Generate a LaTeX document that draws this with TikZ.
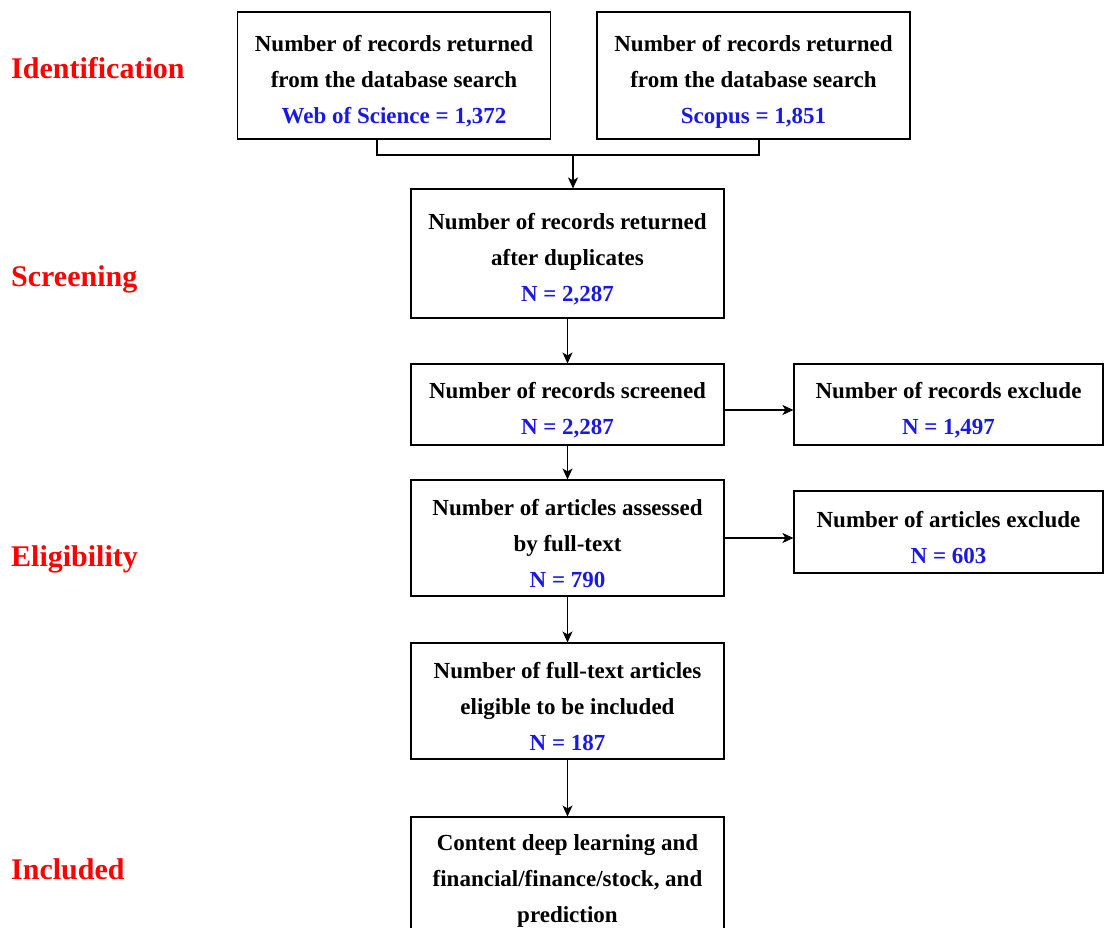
\documentclass[tikz,border=0pt]{standalone}
\usepackage{fontspec}
\setmainfont{Liberation Serif}
\usetikzlibrary{arrows.meta,calc}
\definecolor{numblue}{RGB}{25,25,225}
\definecolor{stagered}{RGB}{255,0,0}
\newcommand\boxfont{\fontsize{23}{36}\selectfont\bfseries}
\newcommand\stagefont{\fontsize{30}{36}\selectfont\bfseries}
\newcommand\numtxt[1]{\textcolor{numblue}{#1}}
% taller first line, so the text sits a little low in its box
\newcommand\firstline{\rule{0pt}{28pt}}
\begin{document}
\begin{tikzpicture}[x=1pt,y=-1pt,
  box/.style={draw, line width=1.1pt, inner sep=0pt, align=center,
    font=\boxfont, minimum width=313pt, minimum height=#1},
  stage/.style={text=stagered, font=\stagefont, anchor=base west, inner sep=0pt},
  arr/.style={line width=1.1pt, -{Stealth[length=11pt,width=10pt,inset=3pt]}}]
\clip (0,0) rectangle (1104,928);

% stage labels
\node[stage] (s1) at (11,79) {Identification};
\node[stage] (s2) at (11,287) {Screening};
\node[stage] (s3) at (11,566) {Eligibility};
\node[stage] (s4) at (11,879) {Included};

% boxes
\node[box=127pt] (wos) at (394,75.5)
  {\firstline Number of records returned\\from the database search\\\numtxt{Web of Science = 1,372}};
\node[box=127pt] (sco) at (753.5,75.5)
  {\firstline Number of records returned\\from the database search\\\numtxt{Scopus = 1,851}};
\node[box=129pt] (dup) at (567.5,253.5)
  {\firstline Number of records returned\\after duplicates\\\numtxt{N = 2,287}};
\node[box=81pt] (scr) at (567.5,404.5)
  {\firstline Number of records screened\\\numtxt{N = 2,287}};
\node[box=81pt, minimum width=309pt] (exc1) at (948.5,404.5)
  {\firstline Number of records exclude\\\numtxt{N = 1,497}};
\node[box=116pt] (full) at (567.5,538)
  {\firstline Number of articles assessed\\by full-text\\\numtxt{N = 790}};
\node[box=82pt, minimum width=309pt] (exc2) at (948.5,532)
  {\firstline Number of articles exclude\\\numtxt{N = 603}};
\node[box=116pt] (elig) at (567.5,701)
  {\firstline Number of full-text articles\\eligible to be included\\\numtxt{N = 187}};
\node[box=116pt] (incl) at (567.5,875)
  {\firstline Content deep learning and\\financial/finance/stock, and\\prediction};

% merge of the two database searches
\coordinate (jl) at (377,155);
\coordinate (jr) at (759,155);
\coordinate (jm) at (573,155);
\draw[line width=1.1pt] (wos.south -| jl) |- (jr) -- (sco.south -| jr);
\draw[arr] (jm) -- (dup.north -| jm);

% main flow
\draw[arr] (dup.south) -- (scr.north);
\draw[arr] (scr.south) -- (full.north);
\draw[arr] (full.south) -- (elig.north);
\draw[arr] (elig.south) -- (incl.north);

% exclusions
\draw[arr] ([yshift=-5.5pt]scr.east) -- ([yshift=-5.5pt]scr.east -| exc1.west);
\draw[arr] (full.east) -- (full.east -| exc2.west);
\end{tikzpicture}
\end{document}
